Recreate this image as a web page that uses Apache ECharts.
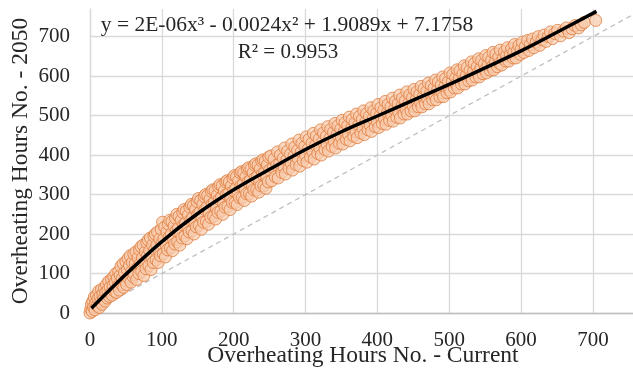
<!DOCTYPE html>
<html>
<head>
<meta charset="utf-8">
<script src="https://cdn.jsdelivr.net/npm/echarts@6/dist/echarts.min.js"></script>
<style>
  html, body { margin: 0; padding: 0; background: #fff; }
  #chart { width: 633px; height: 371px; }
</style>
</head>
<body>
<div id="chart"></div>
<script>
// tick values on both axes
const xTicks = [0, 100, 200, 300, 400, 500, 600, 700];
const yTicks = [0, 100, 200, 300, 400, 500, 600, 700];

// trend line
const trendX = [2, 50, 100, 150, 200, 250, 300, 350, 400, 450, 500, 550, 600, 650, 705];
const trendY = [12, 98, 181, 252, 312, 364, 414, 459, 499, 539, 579, 621, 664, 711, 764];

// reference line y = x
const diagX = [0, 760];
const diagY = [0, 760];

// scatter: [current hours, 2050 hours]
const points = [
  [0,0],[1,10],[2,22],[3,4],[4,30],[5,15],[6,40],[7,8],[8,25],[9,45],[10,18],
  [11,36],[12,55],[13,14],[14,42],[15,28],[16,60],[17,22],[18,48],[19,35],[20,62],
  [21,30],[22,52],[23,72],[24,38],[25,58],[26,80],[27,42],[28,66],[29,50],[30,85],
  [31,45],[32,70],[33,92],[34,55],[35,78],[36,100],[37,52],[38,88],[39,68],[40,105],
  [41,58],[42,95],[43,118],[44,72],[45,88],[46,125],[47,65],[48,102],[49,82],[50,130],
  [51,72],[52,110],[53,138],[54,88],[55,120],[56,145],[57,78],[58,105],[59,128],[60,92],
  [61,150],[62,98],[63,125],[64,155],[65,85],[66,115],[67,140],[68,100],[69,160],[70,125],
  [71,168],[72,105],[73,140],[74,172],[75,95],[76,128],[77,155],[78,112],[79,178],[80,145],
  [81,185],[82,120],[83,158],[84,190],[85,110],[86,142],[87,172],[88,128],[89,195],[90,160],
  [91,200],[92,135],[93,172],[94,205],[95,128],[96,158],[97,188],[98,145],[99,212],[100,175],
  [101,230],[102,150],[103,188],[104,218],[105,142],[106,172],[107,205],[108,160],[109,225],[110,192],
  [111,235],[112,165],[113,200],[114,232],[115,158],[116,188],[117,220],[118,175],[119,240],[120,208],
  [121,250],[122,180],[123,215],[124,245],[125,172],[126,202],[127,235],[128,190],[129,255],[130,222],
  [131,262],[132,195],[133,228],[134,258],[135,188],[136,215],[137,248],[138,205],[139,268],[140,235],
  [141,275],[142,208],[143,242],[144,272],[145,200],[146,228],[147,262],[148,218],[149,282],[150,250],
  [151,290],[152,222],[153,255],[154,285],[155,212],[156,240],[157,275],[158,230],[159,295],[160,262],
  [161,300],[162,232],[163,268],[164,298],[165,225],[166,252],[167,288],[168,242],[169,308],[170,275],
  [171,312],[172,245],[173,280],[174,310],[175,238],[176,265],[177,298],[178,255],[179,320],[180,288],
  [181,325],[182,258],[183,292],[184,322],[185,250],[186,278],[187,310],[188,268],[189,332],[190,300],
  [191,335],[192,270],[193,302],[194,332],[195,262],[196,290],[197,322],[198,280],[199,342],[200,310],
  [201,348],[202,280],[203,315],[204,345],[205,275],[206,300],[207,335],[208,292],[209,355],[210,322],
  [211,358],[212,292],[213,325],[214,355],[215,285],[216,312],[217,345],[218,302],[219,365],[220,332],
  [221,368],[222,302],[223,335],[224,365],[225,296],[226,322],[227,355],[228,312],[229,375],[230,342],
  [231,378],[232,312],[233,345],[234,375],[235,306],[236,332],[237,365],[238,322],[239,385],[240,352],
  [241,388],[242,322],[243,355],[244,385],[245,316],[246,342],[247,375],[248,332],[249,395],[250,362],
  [252,398],[253,335],[255,368],[256,390],[258,345],[260,375],
  [261,408],[262,342],[264,378],[265,400],[267,356],[269,392],[270,370],
  [271,418],[272,352],[274,388],[275,410],[277,366],[279,402],[280,380],
  [281,428],[282,362],[284,398],[285,420],[287,376],[289,412],[290,390],
  [291,438],[292,372],[294,408],[295,430],[297,386],[299,422],[300,400],
  [301,446],[302,382],[304,416],[305,440],[307,395],[309,430],[310,410],
  [311,455],[312,390],[314,425],[315,448],[317,404],[319,440],[320,418],
  [321,464],[322,400],[324,434],[325,456],[327,414],[329,448],[330,428],
  [331,472],[332,410],[334,442],[335,465],[337,422],[339,458],[340,436],
  [341,480],[342,418],[344,452],[345,474],[347,430],[349,466],[350,445],
  [351,488],[352,428],[354,460],[355,482],[357,440],[359,475],[360,452],
  [361,496],[362,436],[364,468],[365,490],[367,448],[369,482],[370,460],
  [371,504],[372,444],[374,476],[375,498],[377,456],[379,490],[380,468],
  [381,512],[382,452],[384,484],[385,505],[387,464],[389,498],[390,476],
  [391,520],[392,460],[394,492],[395,512],[397,472],[399,506],[400,485],
  [401,528],[402,470],[404,500],[405,520],[407,480],[409,514],[410,492],
  [411,536],[412,478],[414,508],[415,528],[417,488],[419,522],[420,500],
  [421,544],[422,486],[424,516],[425,536],[427,496],[429,530],[430,508],
  [431,552],[432,494],[434,524],[435,544],[437,504],[439,538],[440,516],
  [441,560],[442,504],[444,532],[445,552],[447,512],[449,546],[450,524],
  [451,566],[452,512],[454,540],[455,560],[457,522],[459,554],[460,534],
  [461,574],[462,522],[464,548],[465,568],[467,530],[469,562],[470,542],
  [471,582],[472,530],[474,556],[475,576],[477,540],[479,570],[480,550],
  [481,590],[482,540],[484,565],[485,585],[487,548],[489,578],[490,558],
  [491,598],[492,548],[494,574],[495,594],[497,558],[499,586],[500,566],
  [501,608],[502,560],[504,585],[505,604],[507,570],[509,596],[510,580],
  [511,616],[512,570],[514,594],[515,614],[517,580],[519,605],[520,590],
  [521,626],[522,580],[524,602],[525,622],[527,588],[529,614],[530,598],
  [531,636],[532,590],[534,612],[535,632],[537,598],[539,624],[540,608],
  [541,644],[542,598],[544,620],[545,640],[547,606],[549,632],[550,616],
  [551,652],[552,608],[554,628],[555,648],[557,615],[559,640],[560,624],
  [561,660],[562,616],[564,636],[565,656],[567,624],[569,648],[570,632],
  [571,666],[573,628],[575,645],[577,662],[579,638],[580,652],
  [581,672],[583,638],[585,655],[587,670],[589,646],[590,660],
  [591,680],[593,646],[595,664],[597,678],[599,655],[600,668],
  [602,686],[604,660],[606,675],[609,690],[611,665],[613,680],[616,694],[618,672],[621,686],
  [624,700],[626,678],[629,692],[632,704],[635,688],[638,700],[641,712],[644,695],[647,708],
  [651,716],[655,702],[659,714],[663,722],[667,710],[671,720],[675,728],[680,722],[684,730],
  [688,736],[704,741]
];

const serif = "'Liberation Serif', 'Times New Roman', serif";
const chart = echarts.init(document.getElementById('chart'));

const option = {
  animation: false,
  backgroundColor: '#fff',
  grid: { left: 90, top: 9, right: -3, bottom: 58, outerBoundsMode: 'none', containLabel: false },
  xAxis: {
    type: 'value',
    min: 0,
    max: 760,
    name: 'Overheating Hours No. - Current',
    nameLocation: 'middle',
    nameGap: 31,
    nameMoveOverlap: false,
    nameTextStyle: { fontFamily: serif, fontSize: 23.5, color: '#262626' },
    axisLine: { show: true, onZero: false, lineStyle: { color: '#bfbfbf', width: 1.3 } },
    axisTick: { show: false, customValues: xTicks },
    axisLabel: { customValues: xTicks, fontFamily: serif, fontSize: 21, color: '#262626', margin: 17 },
    splitLine: { show: true, lineStyle: { color: '#d9d9d9', width: 1.3 } }
  },
  yAxis: {
    type: 'value',
    min: 0,
    max: 770,
    name: 'Overheating Hours No. - 2050',
    nameLocation: 'middle',
    nameGap: 57,
    nameMoveOverlap: false,
    nameTextStyle: { fontFamily: serif, fontSize: 23.5, color: '#262626' },
    axisLine: { show: true, lineStyle: { color: '#d9d9d9', width: 1.3 } },
    axisTick: { show: false, customValues: yTicks },
    axisLabel: { customValues: yTicks, fontFamily: serif, fontSize: 21, color: '#262626', margin: 20 },
    splitLine: { show: true, lineStyle: { color: '#d9d9d9', width: 1.3 } }
  },
  graphic: [
    {
      type: 'text', x: 287, y: 25, z: 100,
      style: {
        text: 'y = 2E-06x³ - 0.0024x² + 1.9089x + 7.1758',
        font: '21.5px ' + serif, fill: '#262626', align: 'center', verticalAlign: 'middle'
      }
    },
    {
      type: 'text', x: 288, y: 52, z: 100,
      style: {
        text: 'R² = 0.9953',
        font: '21px ' + serif, fill: '#262626', align: 'center', verticalAlign: 'middle'
      }
    }
  ],
  series: [
    {
      type: 'line',
      data: diagX.map((x, i) => [x, diagY[i]]),
      symbol: 'none',
      silent: true,
      lineStyle: { color: '#bfbfbf', width: 1.3, type: [5, 4] },
      z: 1
    },
    {
      type: 'scatter',
      data: points,
      symbolSize: 12,
      itemStyle: { color: 'rgba(248, 203, 173, 0.92)', borderColor: '#df7c3c', borderWidth: 1 },
      z: 2
    },
    {
      type: 'line',
      data: trendX.map((x, i) => [x, trendY[i]]),
      symbol: 'none',
      smooth: 0.4,
      lineStyle: { color: '#000', width: 3.5 },
      z: 3
    }
  ]
};
chart.setOption(option);
</script>
</body>
</html>
